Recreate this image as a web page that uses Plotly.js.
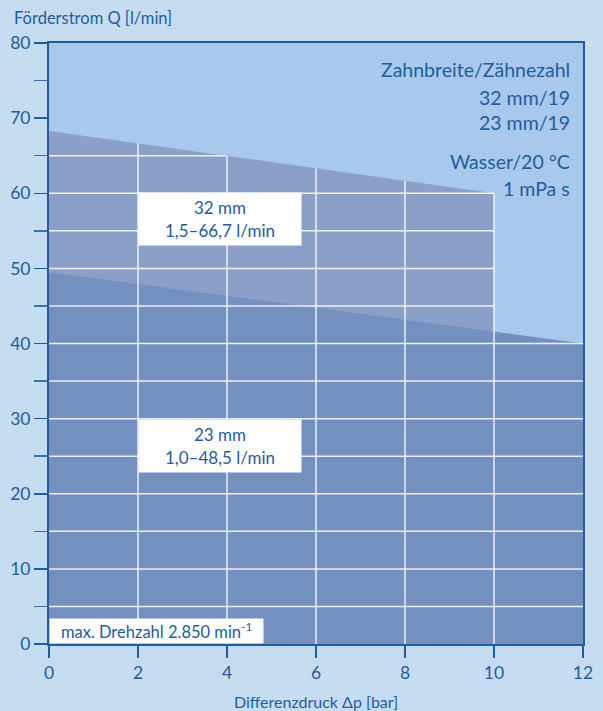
<!DOCTYPE html>
<html>
<head>
<meta charset="utf-8">
<script src="https://cdn.plot.ly/plotly-3.0.1.min.js"></script>
<style>
html,body{margin:0;padding:0;background:#c6dcf1;}
#chart{width:603px;height:711px;}
</style>
</head>
<body>
<div id="chart"></div>
<script>
// Data
const pressure32 = [0, 10];
const flow32 = [68.3, 60];
const pressure23 = [0, 12];
const flow23 = [49.5, 40];
const xTickVals = [0, 2, 4, 6, 8, 10, 12];
const yTickVals = [0, 10, 20, 30, 40, 50, 60, 70, 80];
const yGridVals = [5, 10, 15, 20, 25, 30, 35, 40, 45, 50, 55, 60, 65, 70, 75];

const TXT = '#1f5d9c';
const FONT = 'Lato, "Open Sans", sans-serif';

const seriesList = [[pressure32, flow32], [pressure23, flow23]];

function interp(xs, ys, x) {
  for (let i = 0; i < xs.length - 1; i++) {
    if (x >= xs[i] && x <= xs[i + 1]) {
      const t = (x - xs[i]) / (xs[i + 1] - xs[i]);
      return ys[i] + t * (ys[i + 1] - ys[i]);
    }
  }
  return null;
}
function topAt(x) {
  let m = null;
  seriesList.forEach(([xs, ys]) => {
    const v = interp(xs, ys, x);
    if (v !== null && (m === null || v > m)) m = v;
  });
  return m;
}
function extentAt(y) {
  let m = null;
  seriesList.forEach(([xs, ys]) => {
    for (let i = 0; i < xs.length - 1; i++) {
      const y0 = ys[i], y1 = ys[i + 1];
      let xr = null;
      if (y <= Math.min(y0, y1)) xr = xs[i + 1];
      else if (y <= Math.max(y0, y1)) xr = xs[i] + (y - y0) / (y1 - y0) * (xs[i + 1] - xs[i]);
      if (xr !== null && (m === null || xr > m)) m = xr;
    }
  });
  return m;
}

const gx = [], gy = [];
xTickVals.slice(1, -1).forEach(x => {
  const t = topAt(x);
  if (t !== null) { gx.push(x, x, null); gy.push(0, t, null); }
});
yGridVals.forEach(y => {
  const e = extentAt(y);
  if (e !== null && e > 0) { gx.push(0, e, null); gy.push(y, y, null); }
});

const traces = [
  {x: pressure32, y: flow32, type: 'scatter', mode: 'lines', fill: 'tozeroy',
   fillcolor: '#8aa0c8', line: {width: 0, color: '#8aa0c8'}, hoverinfo: 'skip'},
  {x: pressure23, y: flow23, type: 'scatter', mode: 'lines', fill: 'tozeroy',
   fillcolor: '#7390bf', line: {width: 0, color: '#7390bf'}, hoverinfo: 'skip'},
  {x: gx, y: gy, type: 'scatter', mode: 'lines', connectgaps: false,
   line: {width: 1.5, color: 'rgba(255,255,255,0.85)'}, hoverinfo: 'skip'}
];

const annFont = {family: FONT, size: 17, color: TXT};
const rightLines = [
  ['Zahnbreite/Zähnezahl', 70],
  ['32 mm/19', 97],
  ['23 mm/19', 122],
  ['Wasser/20 °C', 161],
  ['1 mPa s', 188]
];
const annotations = rightLines.map(([t, py]) => ({
  text: t, xref: 'paper', yref: 'paper', x: 1 - 11 / 534, xanchor: 'right',
  y: (644 - py) / 601, yanchor: 'middle', showarrow: false,
  font: {family: FONT, size: 19.5, color: TXT}
}));
annotations.push(
  {text: '32 mm<br>1,5–66,7 l/min', xref: 'x', yref: 'y', x: 2, xanchor: 'left',
   y: 60.2, yanchor: 'top', showarrow: false, bgcolor: '#ffffff', width: 162, height: 52,
   borderpad: 0, align: 'center', font: annFont},
  {text: '23 mm<br>1,0–48,5 l/min', xref: 'x', yref: 'y', x: 2, xanchor: 'left',
   y: 30, yanchor: 'top', showarrow: false, bgcolor: '#ffffff', width: 162, height: 52,
   borderpad: 0, align: 'center', font: annFont},
  {text: 'max. Drehzahl 2.850 min<sup>-1</sup>', xref: 'paper', yref: 'paper', x: 0, xanchor: 'left',
   y: 0, yanchor: 'bottom', showarrow: false, bgcolor: '#ffffff', width: 213, height: 24,
   borderpad: 0, align: 'center', font: {family: FONT, size: 16.5, color: TXT}},
  {text: 'Förderstrom Q [l/min]', xref: 'paper', yref: 'paper', x: -37 / 534, xanchor: 'left',
   y: (644 - 18) / 601, yanchor: 'middle', showarrow: false,
   font: {family: FONT, size: 16.5, color: TXT}}
);

const layout = {
  width: 603, height: 711,
  margin: {l: 49, r: 20, t: 43, b: 67},
  paper_bgcolor: '#c6dcf1',
  plot_bgcolor: '#a8c9eb',
  showlegend: false,
  font: {family: FONT, color: TXT},
  xaxis: {
    range: [0, 12], tickvals: xTickVals, ticks: 'outside', ticklen: 12, tickwidth: 1.5,
    tickcolor: TXT, showgrid: false, zeroline: false, showline: true, linecolor: '#1f5d9c',
    linewidth: 2, mirror: true, tickfont: {family: FONT, size: 17.5, color: TXT},
    title: {text: 'Differenzdruck Δp [bar]', font: {family: FONT, size: 16, color: TXT}, standoff: 16}
  },
  yaxis: {
    range: [0, 80], tickvals: yTickVals, ticks: 'outside', ticklen: 13, tickwidth: 1.5,
    tickcolor: TXT, showgrid: false, zeroline: false, showline: true, linecolor: '#1f5d9c',
    linewidth: 2, mirror: true, tickfont: {family: FONT, size: 17.5, color: TXT},
    minor: {tickvals: [5, 15, 25, 35, 45, 55, 65, 75], ticks: 'outside', ticklen: 13, tickwidth: 1.5, tickcolor: '#3a72a8', showgrid: false}
  },
  annotations: annotations
};

Plotly.newPlot('chart', traces, layout, {displayModeBar: false, staticPlot: true});
</script>
</body>
</html>
